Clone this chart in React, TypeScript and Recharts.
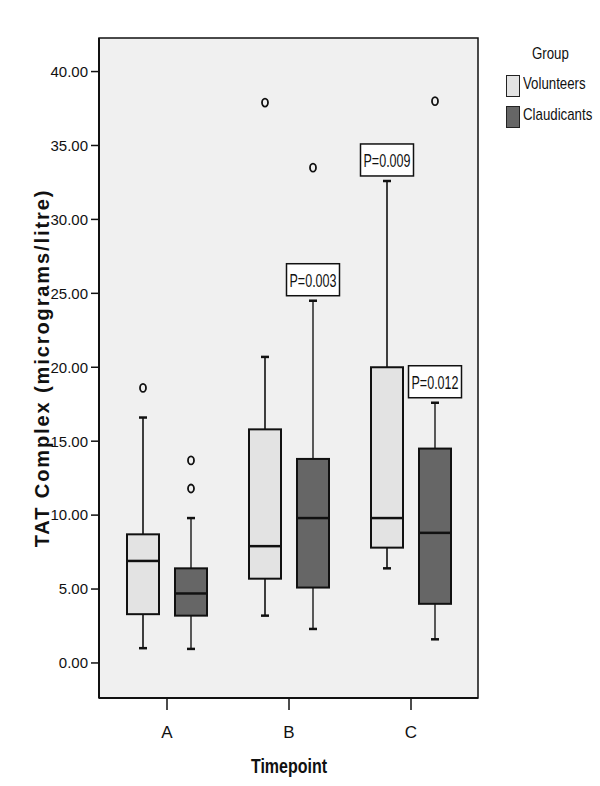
import React from 'react';
import * as R from 'recharts';
import { ComposedChart, Bar, XAxis, YAxis, CartesianGrid } from 'recharts';

const categories = ['A', 'B', 'C'];

const volMin = [1.0, 3.2, 6.4];
const volQ1 = [3.3, 5.7, 7.8];
const volMedian = [6.9, 7.9, 9.8];
const volQ3 = [8.7, 15.8, 20.0];
const volMax = [16.6, 20.7, 32.6];
const volOutliers = [[18.6], [37.9], []];
const volP = ['', '', 'P=0.009'];

const clauMin = [0.95, 2.3, 1.6];
const clauQ1 = [3.2, 5.1, 4.0];
const clauMedian = [4.7, 9.8, 8.8];
const clauQ3 = [6.4, 13.8, 14.5];
const clauMax = [9.8, 24.5, 17.6];
const clauOutliers = [[13.7, 11.8], [33.5], [38.0]];
const clauP = ['', 'P=0.003', 'P=0.012'];

const yTicks = [0, 5, 10, 15, 20, 25, 30, 35, 40];

const rows = categories.map((cat, i) => ({
  cat,
  vol: [volQ1[i], volQ3[i]],
  volStats: { min: volMin[i], q1: volQ1[i], med: volMedian[i], q3: volQ3[i], max: volMax[i], out: volOutliers[i], p: volP[i] },
  clau: [clauQ1[i], clauQ3[i]],
  clauStats: { min: clauMin[i], q1: clauQ1[i], med: clauMedian[i], q3: clauQ3[i], max: clauMax[i], out: clauOutliers[i], p: clauP[i] },
}));

const SANS = '"Liberation Sans", Arial, sans-serif';

function makeBoxShape(key: 'volStats' | 'clauStats', fill: string, whiskerColor: string) {
  return (props: any) => {
    const { x, y, width, height, payload } = props;
    const s = payload[key];
    const top = Math.min(y, y + height);
    const h = Math.abs(height);
    // pixels per unit, taken from the bar the y scale drew
    const ppu = h / (s.q3 - s.q1);
    const py = (v: number) => top + (s.q3 - v) * ppu;
    const cx = x + width / 2;
    const capW = 8;
    return (
      <g>
        <line x1={cx} x2={cx} y1={top} y2={py(s.max)} stroke={whiskerColor} strokeWidth={1.6} />
        <line x1={cx} x2={cx} y1={top + h} y2={py(s.min)} stroke={whiskerColor} strokeWidth={1.6} />
        <line x1={cx - capW / 2} x2={cx + capW / 2} y1={py(s.max)} y2={py(s.max)} stroke="#111" strokeWidth={2.5} />
        <line x1={cx - capW / 2} x2={cx + capW / 2} y1={py(s.min)} y2={py(s.min)} stroke="#111" strokeWidth={2.5} />
        <rect x={x} y={top} width={width} height={h} fill={fill} stroke="#111" strokeWidth={2} />
        <line x1={x} x2={x + width} y1={py(s.med)} y2={py(s.med)} stroke="#111" strokeWidth={2.5} />
        {s.out.map((v: number, i: number) => (
          <ellipse key={i} cx={cx} cy={py(v)} rx={3} ry={4} fill="none" stroke="#111" strokeWidth={1.8} />
        ))}
        {s.p && (
          <g>
            <rect x={cx - 26.5} y={py(s.max) - 5 - 32} width={53} height={32} fill="#fff" stroke="#111" strokeWidth={1.5} />
            <text
              x={cx}
              y={py(s.max) - 5 - 15}
              textAnchor="middle"
              dominantBaseline="central"
              fontFamily={SANS}
              fontSize={18}
              textLength={47}
              lengthAdjust="spacingAndGlyphs"
              fill="#111"
            >
              {s.p}
            </text>
          </g>
        )}
      </g>
    );
  };
}

const VolShape = makeBoxShape('volStats', '#e3e3e3', '#111');
const ClauShape = makeBoxShape('clauStats', '#666666', '#333');

const usePlotArea: any = (R as any).usePlotArea;

// outline of the whole plot area (top and right edges of the frame)
function PlotFrame() {
  const area = usePlotArea ? usePlotArea() : null;
  if (!area) return null;
  return <rect x={area.x} y={area.y} width={area.width} height={area.height} fill="none" stroke="#111" strokeWidth={1.5} />;
}

const narrowText = (left: number, top: number, text: string) => (
  <div
    style={{
      position: 'absolute', left, top, transform: 'scaleX(0.78)', transformOrigin: 'left center',
      whiteSpace: 'nowrap', fontFamily: SANS, fontSize: 17, color: '#111',
    }}
  >
    {text}
  </div>
);

export default function App() {
  const domain = [-2.37, 42.27];
  return (
    <div style={{ position: 'absolute', left: 0, top: 0, width: 600, height: 786, background: '#fff' }}>
      <ComposedChart
        width={600}
        height={786}
        data={rows}
        margin={{ top: 38, right: 122, bottom: 48, left: 39 }}
        barSize={32}
        barGap={16}
      >
        <CartesianGrid horizontal={false} vertical={false} fill="#f0f0f0" />
        <PlotFrame />
        <XAxis
          dataKey="cat"
          height={40}
          padding={{ left: 7, right: 6 }}
          tickLine={{ stroke: '#111', strokeWidth: 1.5 }}
          tickSize={12}
          axisLine={{ stroke: '#111', strokeWidth: 2 }}
          tick={{ fill: '#111', fontSize: 17, fontFamily: SANS }}
          tickMargin={16}
        />
        <YAxis
          width={60}
          domain={domain}
          ticks={yTicks}
          allowDataOverflow
          tickFormatter={(v: number) => v.toFixed(2)}
          tickLine={{ stroke: '#111', strokeWidth: 1.5 }}
          tickSize={8}
          tickMargin={3}
          axisLine={{ stroke: '#111', strokeWidth: 2 }}
          tick={{ fill: '#111', fontSize: 15, fontFamily: SANS }}
        />
        <Bar dataKey="vol" name="Volunteers" isAnimationActive={false} shape={VolShape} />
        <Bar dataKey="clau" name="Claudicants" isAnimationActive={false} shape={ClauShape} />
      </ComposedChart>

      <div
        style={{
          position: 'absolute', left: 42, top: 368, transform: 'translate(-50%, -50%) rotate(-90deg)',
          whiteSpace: 'nowrap', fontFamily: SANS, fontWeight: 'bold', fontSize: 20, letterSpacing: 1.9, color: '#111',
        }}
      >
        TAT Complex (micrograms/litre)
      </div>
      <div
        style={{
          position: 'absolute', left: 289, top: 766, transform: 'translate(-50%, -50%) scaleX(0.8)',
          whiteSpace: 'nowrap', fontFamily: SANS, fontWeight: 'bold', fontSize: 20, color: '#111',
        }}
      >
        Timepoint
      </div>

      {narrowText(532, 44, 'Group')}
      <div style={{ position: 'absolute', left: 506, top: 75, width: 12, height: 20, background: '#e3e3e3', border: '1.5px solid #222' }} />
      {narrowText(523, 74, 'Volunteers')}
      <div style={{ position: 'absolute', left: 506, top: 106, width: 12, height: 20, background: '#666', border: '1.5px solid #222' }} />
      {narrowText(523, 105, 'Claudicants')}
    </div>
  );
}
